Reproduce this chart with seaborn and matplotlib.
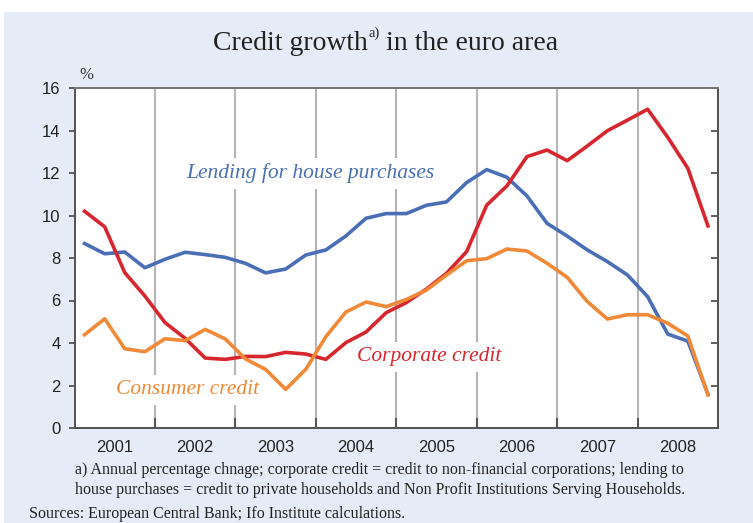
import numpy as np
import pandas as pd
import matplotlib
matplotlib.use("Agg")
import matplotlib.pyplot as plt
from matplotlib.patches import Rectangle
import seaborn as sns

# Quarterly annual growth rates, 2001 Q1 - 2008 Q4 (%)
years = [2001, 2002, 2003, 2004, 2005, 2006, 2007, 2008]
quarters = [1, 2, 3, 4]

house_purchases = [8.68, 8.20, 8.28, 7.54, 7.94, 8.27, 8.16, 8.03,
                   7.75, 7.30, 7.48, 8.14, 8.38, 9.04, 9.87, 10.09,
                   10.09, 10.48, 10.64, 11.55, 12.16, 11.80, 10.92, 9.63,
                   9.03, 8.38, 7.83, 7.20, 6.18, 4.42, 4.09, 1.60]

corporate = [10.20, 9.47, 7.31, 6.21, 4.96, 4.22, 3.29, 3.23,
             3.37, 3.36, 3.56, 3.48, 3.23, 4.02, 4.52, 5.43,
             5.90, 6.54, 7.28, 8.30, 10.49, 11.39, 12.77, 13.08,
             12.58, 13.27, 13.99, 14.49, 15.00, 13.68, 12.22, 9.51]

consumer = [4.39, 5.14, 3.73, 3.59, 4.20, 4.11, 4.64, 4.19,
            3.25, 2.76, 1.82, 2.76, 4.30, 5.46, 5.93, 5.71,
            6.05, 6.49, 7.20, 7.87, 7.97, 8.42, 8.33, 7.75,
            7.09, 5.95, 5.13, 5.33, 5.33, 4.93, 4.33, 1.55]

series_names = ["Lending for house purchases", "Corporate credit", "Consumer credit"]
palette = {"Lending for house purchases": "#4a6fb5",
           "Corporate credit": "#d8262f",
           "Consumer credit": "#f08a38"}

# quarter midpoints on a continuous year axis
t = [y + (q - 0.5) / 4 for y in years for q in quarters]
df = pd.concat([
    pd.DataFrame({"t": t, "value": vals, "series": name})
    for name, vals in zip(series_names, [house_purchases, corporate, consumer])
])

W, H = 753, 523
fig = plt.figure(figsize=(W / 100, H / 100), dpi=100)
fig.patch.set_facecolor("white")
panel_bg = "#e6ecf7"
fig.add_artist(Rectangle((4 / W, 0), 1, 1 - 12 / H, transform=fig.transFigure,
                         facecolor=panel_bg, edgecolor="none", zorder=-10))

left, right, top, bottom = 74.5, 718, 88, 428
ax = fig.add_axes([left / W, (H - bottom) / H, (right - left) / W, (bottom - top) / H])
ax.set_facecolor("white")

sns.lineplot(data=df, x="t", y="value", hue="series", palette=palette,
             linewidth=2.6, legend=False, ax=ax, zorder=4)

ax.set_xlim(2001, 2009)
ax.set_ylim(0, 16)
ax.set_xlabel("")
ax.set_ylabel("")

# year boundaries: ticks and vertical grid lines
bounds = years[1:]
ax.set_xticks(bounds)
ax.set_xticklabels([])
ax.set_xticks([y + 0.5 for y in years], minor=True)
ax.set_xticklabels([str(y) for y in years], minor=True,
                   fontsize=12, family="Liberation Sans", color="#222222")
ax.tick_params(axis="x", which="major", direction="in", length=7, width=1.2, color="#444444")
ax.tick_params(axis="x", which="minor", length=0, pad=9)
for b in bounds:
    ax.axvline(b, color="#b5b5b5", linewidth=1.5, zorder=1)

ax.set_yticks(range(0, 17, 2))
ax.set_yticklabels([str(v) for v in range(0, 17, 2)], fontsize=12,
                   family="Liberation Sans", color="#222222")
ax.tick_params(axis="y", which="major", direction="out", length=4, width=1.2,
               color="#444444", left=True, right=False, pad=6)
# inward ticks on the right spine
ax2 = ax.twinx()
ax2.set_ylim(0, 16)
ax2.set_yticks(range(0, 17, 2))
ax2.set_yticklabels([])
ax2.tick_params(axis="y", direction="in", length=5, width=1.2, color="#444444")

for a in (ax, ax2):
    for s in a.spines.values():
        s.set_color("#555555")
        s.set_linewidth(1.4)
    a.spines["top"].set_color("#777777")

# series labels with white boxes over the grid
lab_kw = dict(family="Liberation Serif", style="italic", fontsize=15.5,
              ha="center", va="center", zorder=3,
              bbox=dict(facecolor="white", edgecolor="none", pad=4))
ax.text(2003.93, 11.99, "Lending for house purchases", color=palette["Lending for house purchases"], **lab_kw)
ax.text(2005.41, 3.36, "Corporate credit", color=palette["Corporate credit"], **lab_kw)
ax.text(2002.41, 1.79, "Consumer credit", color=palette["Consumer credit"], **lab_kw)

# title with a small raised footnote marker
title_kw = dict(family="Liberation Serif", color="#222222", va="baseline")
renderer = fig.canvas.get_renderer()
base_y = 1 - 50 / H
parts = [("Credit growth", 20, 0.0), ("a)", 10.5, 13 / H), (" in the euro area", 20, 0.0)]
widths = []
for txt, size, _ in parts:
    tmp = fig.text(0, 0, txt, fontsize=size, **title_kw)
    widths.append(tmp.get_window_extent(renderer).width / W)
    tmp.remove()
x0 = 386 / W - sum(widths) / 2
for (txt, size, dy), w in zip(parts, widths):
    fig.text(x0, base_y + dy, txt, fontsize=size, ha="left", **title_kw)
    x0 += w

fig.text(86 / W, 1 - 75 / H, "%", family="Liberation Serif", fontsize=12,
         ha="center", va="center", color="#333333")

# footnote and sources
note_kw = dict(family="Liberation Serif", fontsize=11.5, ha="left", va="center", color="#222222")
fig.text(75 / W, 1 - 470 / H,
         "a) Annual percentage chnage; corporate credit = credit to non-financial corporations; lending to",
         **note_kw)
fig.text(75 / W, 1 - 490 / H,
         "house purchases = credit to private households and Non Profit Institutions Serving Households.",
         **note_kw)
fig.text(29 / W, 1 - 514 / H, "Sources: European Central Bank; Ifo Institute calculations.", **note_kw)

fig.savefig("out.png", dpi=100, facecolor=fig.get_facecolor())
